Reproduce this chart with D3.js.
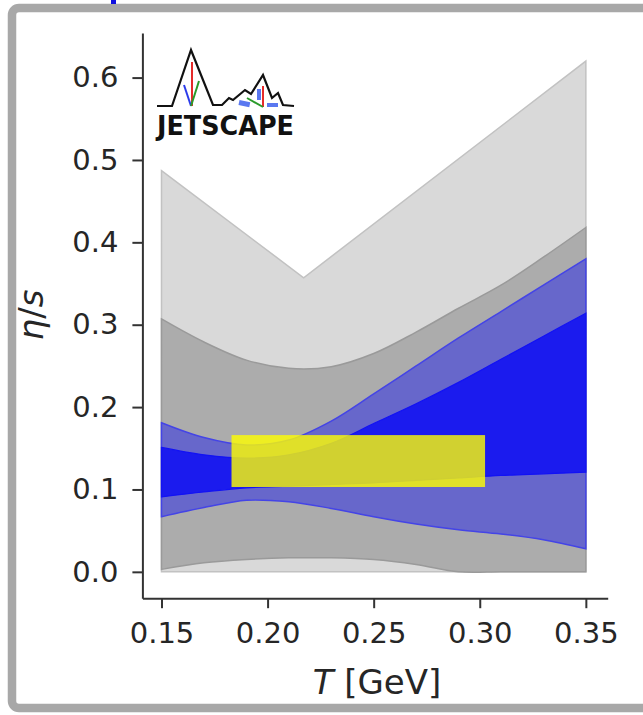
<!DOCTYPE html>
<html>
<head>
<meta charset="utf-8">
<script src="https://cdn.jsdelivr.net/npm/d3@7"></script>
<style>
  body { margin: 0; background: #fff; }
  text { font-family: "DejaVu Sans", sans-serif; fill: #262626; }
</style>
</head>
<body>
<div id="chart"></div>
<script>
// temperature grid for the posterior bands
const tGrid = [0.15, 0.17, 0.19, 0.21, 0.23, 0.25, 0.27, 0.29, 0.31, 0.33, 0.35]

// prior range (piecewise linear)
const priorT = [0.15, 0.217, 0.35]
const priorLow = [0, 0, 0]
const priorHigh = [0.487, 0.357, 0.620]

// gray band
const grayLow = [0.003, 0.011, 0.015, 0.017, 0.017, 0.015, 0.009, 0.0, 0.0, 0.0, 0.0]
const grayHigh = [0.307, 0.279, 0.257, 0.247, 0.249, 0.265, 0.291, 0.320, 0.348, 0.382, 0.418]

// blue bands
const blue90Low = [0.067, 0.078, 0.087, 0.085, 0.077, 0.067, 0.058, 0.051, 0.046, 0.039, 0.028]
const blue90High = [0.181, 0.163, 0.154, 0.160, 0.183, 0.216, 0.250, 0.284, 0.316, 0.348, 0.380]
const blue60Low = [0.091, 0.097, 0.102, 0.104, 0.106, 0.108, 0.111, 0.114, 0.117, 0.119, 0.121]
const blue60High = [0.151, 0.142, 0.138, 0.142, 0.156, 0.180, 0.204, 0.230, 0.258, 0.286, 0.314]

// yellow box
const boxT = [0.183, 0.3025]
const boxEta = [0.103, 0.166]

const xTicks = [0.15, 0.20, 0.25, 0.30, 0.35]
const xTickLabels = ["0.15", "0.20", "0.25", "0.30", "0.35"]
const yTicks = [0.0, 0.1, 0.2, 0.3, 0.4, 0.5, 0.6]
const yTickLabels = ["0.0", "0.1", "0.2", "0.3", "0.4", "0.5", "0.6"]

var width = 643, height = 715

var svg = d3.select("#chart")
    .append("svg")
    .attr("width", width)
    .attr("height", height)

// outer frame
svg.append("rect")
    .attr("x", 12).attr("y", 8)
    .attr("width", 700).attr("height", 700)
    .attr("rx", 7)
    .attr("fill", "#fff")
    .attr("stroke", "#a8a8a8")
    .attr("stroke-width", 8.5)
svg.append("rect")
    .attr("x", 111).attr("y", 0)
    .attr("width", 5).attr("height", 4)
    .attr("fill", "#1010e0")

var x = d3.scaleLinear()
    .domain([0.141, 0.3603])
    .range([142.4, 607.7])
var y = d3.scaleLinear()
    .domain([-0.032, 0.654])
    .range([598.2, 33.1])

function band(ts, lo, hi, curve) {
    return d3.area()
        .x(function (d, i) { return x(ts[i]); })
        .y0(function (d, i) { return y(lo[i]); })
        .y1(function (d, i) { return y(hi[i]); })
        .curve(curve)(ts)
}

var smooth = d3.curveCatmullRom.alpha(0.5)
var plot = svg.append("g")

plot.append("path")
    .attr("d", band(priorT, priorLow, priorHigh, d3.curveLinear))
    .attr("fill", "#d9d9d9")
    .attr("stroke", "#c2c2c2")
    .attr("stroke-width", 1.5)

plot.append("path")
    .attr("d", band(tGrid, grayLow, grayHigh, smooth))
    .attr("fill", "#acacac")
    .attr("stroke", "#9a9a9a")
    .attr("stroke-width", 1.5)

plot.append("path")
    .attr("d", band(tGrid, blue90Low, blue90High, smooth))
    .attr("fill", "#6767cb")
    .attr("stroke", "#4444e6")
    .attr("stroke-width", 1.5)

plot.append("path")
    .attr("d", band(tGrid, blue60Low, blue60High, smooth))
    .attr("fill", "#1b1bee")
    .attr("stroke", "#1212f4")
    .attr("stroke-width", 1.2)

plot.append("rect")
    .attr("x", x(boxT[0]))
    .attr("y", y(boxEta[1]))
    .attr("width", x(boxT[1]) - x(boxT[0]))
    .attr("height", y(boxEta[0]) - y(boxEta[1]))
    .attr("fill", "#ffff00")
    .attr("fill-opacity", 0.8)

// axes (offset spines)
var xAxis = svg.append("g")
    .attr("transform", "translate(0," + y.range()[0] + ")")
    .call(d3.axisBottom(x).tickValues(xTicks).tickSizeOuter(0).tickSizeInner(10).tickPadding(14)
        .tickFormat(function (d, i) { return xTickLabels[i]; }))
var yAxis = svg.append("g")
    .attr("transform", "translate(" + x.range()[0] + ",0)")
    .call(d3.axisLeft(y).tickValues(yTicks).tickSizeOuter(0).tickSizeInner(10).tickPadding(14)
        .tickFormat(function (d, i) { return yTickLabels[i]; }))

svg.selectAll(".domain, .tick line")
    .attr("stroke", "#333")
    .attr("stroke-width", 2)
svg.selectAll(".tick text")
    .attr("font-family", "DejaVu Sans")
    .attr("font-size", 29)
    .attr("fill", "#262626")

// axis labels
var xl = svg.append("text")
    .attr("x", 377).attr("y", 694)
    .attr("text-anchor", "middle")
    .attr("font-size", 34)
xl.append("tspan").attr("font-style", "italic").text("T")
xl.append("tspan").text(" [GeV]")

var yl = svg.append("text")
    .attr("transform", "translate(43,315) rotate(-90)")
    .attr("text-anchor", "middle")
    .attr("font-size", 34)
yl.append("tspan").attr("font-style", "italic").text("η")
yl.append("tspan").text("/")
yl.append("tspan").attr("font-style", "italic").text("s")

// JETSCAPE logo
var logo = svg.append("g")
logo.append("path")
    .attr("d", "M157,106 L172,106 L191,50 L213,105 L222,105 L229,98 L233,100 L245,90 L251,94 L263,75 L272,98 L278,93 L283,105 L294,106")
    .attr("fill", "none")
    .attr("stroke", "#111")
    .attr("stroke-width", 2.2)
    .attr("stroke-linejoin", "miter")
logo.append("line").attr("x1", 192).attr("y1", 62).attr("x2", 192).attr("y2", 106)
    .attr("stroke", "#e52b2b").attr("stroke-width", 2)
logo.append("line").attr("x1", 184).attr("y1", 85).attr("x2", 191).attr("y2", 106)
    .attr("stroke", "#2b3bea").attr("stroke-width", 2)
logo.append("line").attr("x1", 199).attr("y1", 81).attr("x2", 191).attr("y2", 106)
    .attr("stroke", "#2a9a2a").attr("stroke-width", 2)
logo.append("line").attr("x1", 263).attr("y1", 86).attr("x2", 263).attr("y2", 107)
    .attr("stroke", "#e52b2b").attr("stroke-width", 2)
logo.append("line").attr("x1", 247).attr("y1", 98).attr("x2", 263).attr("y2", 107)
    .attr("stroke", "#2a9a2a").attr("stroke-width", 2)
logo.append("rect").attr("x", 239).attr("y", 101).attr("width", 11).attr("height", 5)
    .attr("fill", "#5a78f0").attr("transform", "rotate(12,244,103)")
logo.append("rect").attr("x", 267).attr("y", 103).attr("width", 11).attr("height", 4)
    .attr("fill", "#5a78f0")
logo.append("rect").attr("x", 257).attr("y", 89).attr("width", 4).attr("height", 11)
    .attr("fill", "#5a78f0")
logo.append("text")
    .attr("x", 157).attr("y", 135)
    .attr("textLength", 137)
    .attr("lengthAdjust", "spacingAndGlyphs")
    .attr("font-family", "DejaVu Sans Mono")
    .attr("font-weight", "bold")
    .attr("font-size", 27)
    .style("fill", "#111")
    .text("JETSCAPE")
</script>
</body>
</html>
